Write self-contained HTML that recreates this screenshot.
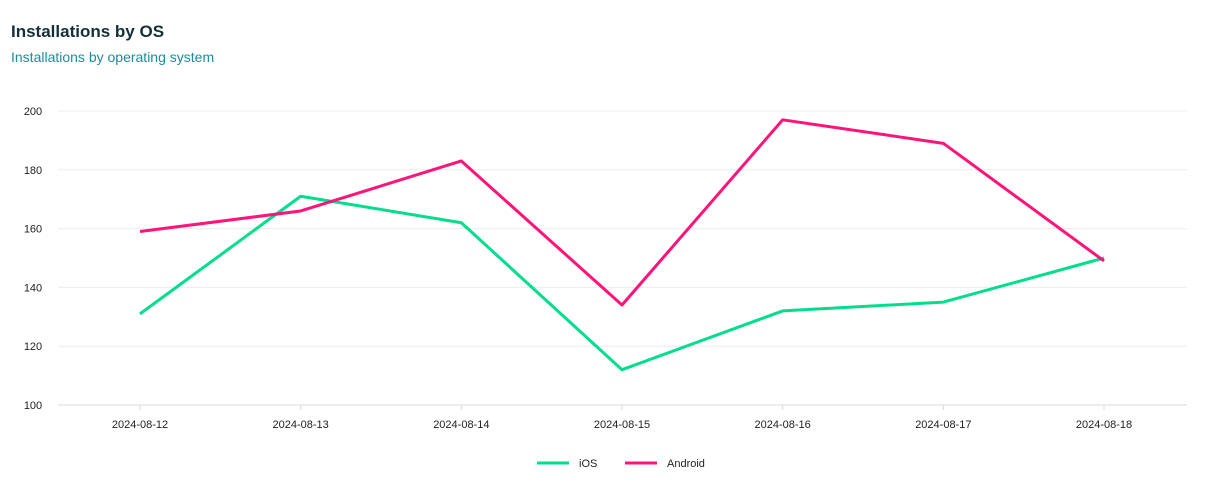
<!DOCTYPE html>
<html><head><meta charset="utf-8"><style>
body{margin:0;background:#fff;font-family:"Liberation Sans",sans-serif;}
#title{position:absolute;left:11px;top:22px;font-size:17px;font-weight:bold;color:#13303a;}
#sub{position:absolute;left:11px;top:49px;font-size:14px;color:#1f8a9e;}
</style></head><body>
<div id="title">Installations by OS</div>
<div id="sub">Installations by operating system</div>
<svg id="c" width="1215" height="496" style="position:absolute;left:0;top:0"></svg>
<script>
const categories=["2024-08-12","2024-08-13","2024-08-14","2024-08-15","2024-08-16","2024-08-17","2024-08-18"];
const iosValues=[131,171,162,112,132,135,150];
const androidValues=[159,166,183,134,197,189,149];
const yTicks=[100,120,140,160,180,200];
const svg=document.getElementById('c');
const NS='http://www.w3.org/2000/svg';
const x0=140,x1=1104,yTop=111,yBot=405,left=58,right=1187;
const x=i=>x0+(x1-x0)*i/(categories.length-1);
const y=v=>yBot-(v-100)/(200-100)*(yBot-yTop);
function mk(t,a){const e=document.createElementNS(NS,t);for(const k in a)e.setAttribute(k,a[k]);svg.appendChild(e);return e;}
yTicks.forEach(v=>{
 const g=mk('line',{x1:left,x2:right,y1:y(v),y2:y(v),stroke:v===100?'#d8d8d8':'#ececec','stroke-width':1});
 
 
 const t=mk('text',{x:33,y:y(v)+4,'text-anchor':'middle','font-size':11,fill:'#222','font-family':'Liberation Sans, sans-serif'});
 t.textContent=v;
 
 
});
categories.forEach((c,i)=>{
 const tk=mk('line',{x1:x(i),x2:x(i),y1:yBot,y2:yBot+5,stroke:'#d8d8d8'});
 
 
 const t=mk('text',{x:x(i),y:428,'text-anchor':'middle','font-size':11,fill:'#222','font-family':'Liberation Sans, sans-serif'});
 t.textContent=c;
 
 
});
function series(vals,color,name){
 const p=mk('polyline',{points:vals.map((v,i)=>x(i)+','+y(v)).join(' '),fill:'none',stroke:color,'stroke-width':3,'stroke-linejoin':'round'});
 
 
}
series(iosValues,'#00dd8c','ios');
series(androidValues,'#ff1479','android');
[['iOS','#00dd8c',537],['Android','#ff1479',625]].forEach(([n,c,lx])=>{
 const l=mk('line',{x1:lx,x2:lx+32,y1:463,y2:463,stroke:c,'stroke-width':3});
 
 
 const t=mk('text',{x:lx+42,y:467,'font-size':11,fill:'#222','font-family':'Liberation Sans, sans-serif'});
 t.textContent=n;
 
 
});
</script>
</body></html>
